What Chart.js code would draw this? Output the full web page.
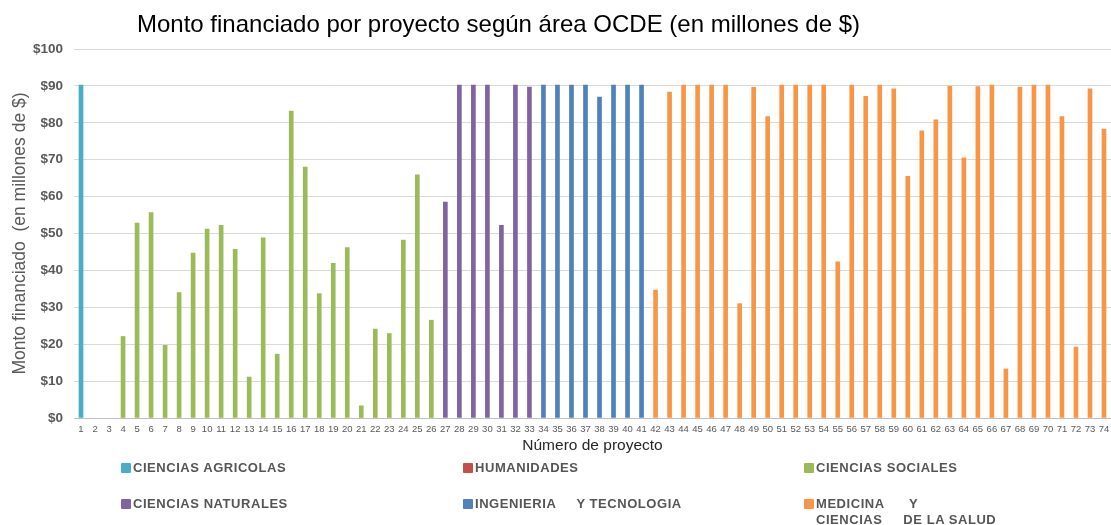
<!DOCTYPE html>
<html>
<head>
<meta charset="utf-8">
<script src="https://cdn.jsdelivr.net/npm/chart.js@4.4.1/dist/chart.umd.min.js"></script>
<style>
  html, body { margin: 0; padding: 0; background: #ffffff; }
  #wrap { position: relative; width: 1111px; height: 525px; overflow: hidden; }
  #c { position: absolute; left: 0; top: 0; }
  .lg-sq { position: absolute; width: 10px; height: 10px; border-radius: 1px; }
  .lg-tx { position: absolute; font-family: "Liberation Sans", Arial, sans-serif; font-weight: bold;
           font-size: 13px; line-height: 16px; letter-spacing: 0.55px; color: #555555; white-space: pre; }
</style>
</head>
<body>
<div id="wrap">
  <canvas id="c" width="1111" height="525"></canvas>
  <div id="legend"></div>
</div>
<script>
// ---- Data ----
const tituloGrafico = 'Monto financiado por proyecto según área OCDE (en millones de $)';
const tituloEjeY = 'Monto financiado  (en millones de $)';
const tituloEjeX = 'Número de proyecto';

const proyectos = ['1','2','3','4','5','6','7','8','9','10','11','12','13','14','15','16','17','18','19','20',
  '21','22','23','24','25','26','27','28','29','30','31','32','33','34','35','36','37','38','39','40',
  '41','42','43','44','45','46','47','48','49','50','51','52','53','54','55','56','57','58','59','60',
  '61','62','63','64','65','66','67','68','69','70','71','72','73','74'];

const montos = [90.2, null, null, 22.1, 52.8, 55.7, 19.7, 34.0, 44.7, 51.2,
  52.2, 45.7, 11.1, 48.8, 17.3, 83.2, 68.0, 33.7, 41.9, 46.2,
  3.3, 24.1, 22.9, 48.2, 65.9, 26.5, 58.5, 90.2, 90.2, 90.2,
  52.2, 90.2, 89.7, 90.2, 90.2, 90.2, 90.2, 87.0, 90.2, 90.2,
  90.2, 34.7, 88.3, 90.2, 90.2, 90.2, 90.2, 31.0, 89.6, 81.7,
  90.2, 90.2, 90.2, 90.2, 42.3, 90.2, 87.2, 90.2, 89.2, 65.5,
  77.8, 80.8, 89.9, 70.5, 89.8, 90.2, 13.3, 89.7, 90.2, 90.2,
  81.7, 19.2, 89.2, 78.3];

const areas = ['CIENCIAS AGRICOLAS', 'HUMANIDADES', 'CIENCIAS SOCIALES',
  'CIENCIAS NATURALES', 'INGENIERIA     Y TECNOLOGIA', 'MEDICINA      Y\nCIENCIAS     DE LA SALUD'];
// first project number of each area (areas are contiguous)
const areaDesde = [1, 2, 4, 27, 34, 42];
const colores = ['#4BACC6', '#C0504D', '#9BBB59', '#8064A2', '#4F81BD', '#F79646'];

const ticksY = [0, 10, 20, 30, 40, 50, 60, 70, 80, 90, 100];

// ---- Build datasets ----
function areaOf(n) {
  let a = 0;
  for (let i = 0; i < areaDesde.length; i++) if (n >= areaDesde[i]) a = i;
  return a;
}
const datasets = areas.map((name, ai) => ({
  label: name,
  data: montos.map((v, i) => areaOf(i + 1) === ai ? v : null),
  backgroundColor: colores[ai],
  borderWidth: 0,
  barThickness: 4,
  grouped: false,
  skipNull: true
}));

const titlePlugin = {
  id: 'tituloManual',
  afterDraw(chart) {
    const ctx = chart.ctx;
    ctx.save();
    ctx.font = '24px "Liberation Sans", Arial, sans-serif';
    ctx.fillStyle = '#000000';
    ctx.textAlign = 'left';
    ctx.textBaseline = 'alphabetic';
    ctx.fillText(tituloGrafico, 137, 32);
    ctx.restore();
  }
};

new Chart(document.getElementById('c'), {
  type: 'bar',
  data: { labels: proyectos, datasets: datasets },
  options: {
    responsive: false,
    animation: false,
    layout: { padding: { left: 0, top: 49, right: 0, bottom: 70 } },
    plugins: {
      legend: { display: false },
      title: { display: false },
      tooltip: { enabled: false }
    },
    scales: {
      x: {
        offset: true,
        grid: { display: false, drawTicks: false },
        border: { display: true, color: '#BFBFBF', width: 1 },
        ticks: {
          autoSkip: false, maxRotation: 0, minRotation: 0, padding: 6,
          color: '#595959',
          font: { family: '"Liberation Sans", Arial, sans-serif', size: 9.5 }
        },
        title: {
          display: true, text: tituloEjeX, color: '#262626',
          padding: { top: 0, bottom: 0 },
          font: { family: '"Liberation Sans", Arial, sans-serif', size: 15.5 }
        },
        afterFit(s) { s.height = 37; s.paddingRight = 0; s.paddingLeft = 0; }
      },
      y: {
        min: 0, max: 100,
        afterBuildTicks(s) { s.ticks = ticksY.map(v => ({ value: v })); },
        grid: { color: '#D9D9D9', drawTicks: false, lineWidth: 1 },
        border: { display: false },
        ticks: {
          padding: 11, color: '#595959',
          font: { family: '"Liberation Sans", Arial, sans-serif', size: 13.5, weight: 'bold' },
          callback: v => '$' + v
        },
        title: {
          display: true, text: tituloEjeY, color: '#595959',
          padding: { top: 10, bottom: 0 },
          font: { family: '"Liberation Sans", Arial, sans-serif', size: 17.5 }
        },
        afterFit(s) { s.width = 74; }
      }
    }
  },
  plugins: [titlePlugin]
});

// ---- HTML legend ----
const legendCols = [121, 463, 804];
const legendRows = [463, 499];
const lg = document.getElementById('legend');
areas.forEach((name, i) => {
  const col = i % 3, row = Math.floor(i / 3);
  const sq = document.createElement('div');
  sq.className = 'lg-sq';
  sq.style.left = legendCols[col] + 'px';
  sq.style.top = legendRows[row] + 'px';
  sq.style.background = colores[i];
  lg.appendChild(sq);
  const tx = document.createElement('div');
  tx.className = 'lg-tx';
  tx.style.left = (legendCols[col] + 12) + 'px';
  tx.style.top = (legendRows[row] - 3.5) + 'px';
  tx.textContent = name;
  lg.appendChild(tx);
});
</script>
</body>
</html>
